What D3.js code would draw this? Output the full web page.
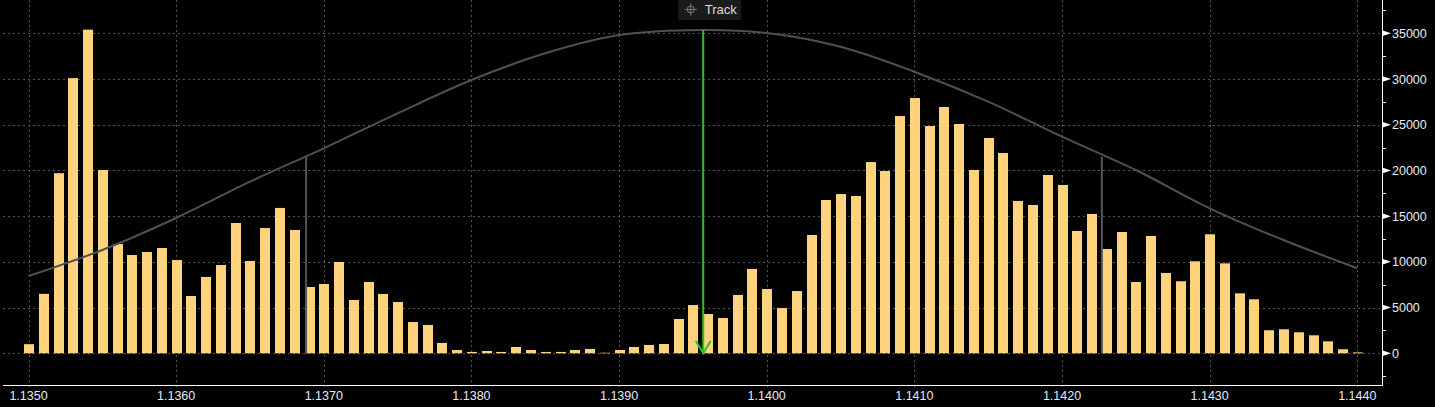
<!DOCTYPE html>
<html>
<head>
<meta charset="utf-8">
<script src="https://cdn.jsdelivr.net/npm/d3@7/dist/d3.min.js"></script>
<style>
  html, body { margin: 0; padding: 0; background: #000; }
  svg { display: block; }
</style>
</head>
<body>
<svg id="chart" width="1435" height="407"></svg>
<script>
// ---------- DATA ----------
const priceLevels = [
  1.1350,1.1351,1.1352,1.1353,1.1354,1.1355,1.1356,1.1357,1.1358,1.1359,
  1.1360,1.1361,1.1362,1.1363,1.1364,1.1365,1.1366,1.1367,1.1368,1.1369,
  1.1370,1.1371,1.1372,1.1373,1.1374,1.1375,1.1376,1.1377,1.1378,1.1379,
  1.1380,1.1381,1.1382,1.1383,1.1384,1.1385,1.1386,1.1387,1.1388,1.1389,
  1.1390,1.1391,1.1392,1.1393,1.1394,1.1395,1.1396,1.1397,1.1398,1.1399,
  1.1400,1.1401,1.1402,1.1403,1.1404,1.1405,1.1406,1.1407,1.1408,1.1409,
  1.1410,1.1411,1.1412,1.1413,1.1414,1.1415,1.1416,1.1417,1.1418,1.1419,
  1.1420,1.1421,1.1422,1.1423,1.1424,1.1425,1.1426,1.1427,1.1428,1.1429,
  1.1430,1.1431,1.1432,1.1433,1.1434,1.1435,1.1436,1.1437,1.1438,1.1439,
  1.1440
];
const volumes = [
  1000,6500,19700,30100,35400,20050,11950,10750,11080,11520,
  10200,6270,8350,9660,14250,10100,13700,15900,13490,7250,
  7580,9990,5830,7800,6490,5610,3420,3100,1130,360,
  150,250,150,690,360,150,150,360,470,60,
  360,690,910,1020,3750,5280,4300,3860,6380,9220,
  7030,4950,6810,12940,16770,17420,17200,20920,19940,25950,
  27920,24860,26940,25080,20050,23550,21910,16660,16220,19500,
  18410,13380,15240,11410,13270,7800,12830,8780,7880,10060,
  13020,9840,6560,5910,2520,2630,2300,1970,1310,440,
  100
];
// distribution curve
const curvePrices = [1.1350,1.1355,1.1360,1.1365,1.1370,1.1375,1.1380,1.1385,1.1390,1.13957,
                     1.1400,1.1405,1.1410,1.1415,1.1420,1.1425,1.1430,1.1435,1.1440];
const curveValues = [8450,11300,14800,18770,22420,26250,29890,32810,34810,35370,
                     35030,33530,30800,27520,23690,20050,15860,12390,9300];
// band markers (vertical grey lines) and tracked price
const bandPrices = [1.13688, 1.14227];
const bandValues = [21500, 21500];
const trackPrice = 1.13957;
const trackValue = 35370;
const trackLabel = "Track";
// axis ticks
const xTickLabels = ["1.1350","1.1360","1.1370","1.1380","1.1390","1.1400","1.1410","1.1420","1.1430","1.1440"];
const yTickValues = [0,5000,10000,15000,20000,25000,30000,35000];
const yMinorValues = [-2500,2500,7500,12500,17500,22500,27500,32500,37500];

// ---------- LAYOUT ----------
const svg = d3.select("#chart");
const plotLeft = 3, plotRight = 1382, plotTop = 0, plotBottom = 385;

const x = d3.scaleLinear().domain([1.1350, 1.1440]).range([28.5, 1357.3]);
const y = d3.scaleLinear().domain([0, 35000]).range([353.3, 33.3]);

const gridColor = "#545454";
const labelColor = "#e4ecf7";
const font = "'Liberation Sans', Arial, sans-serif";

// grid
const grid = svg.append("g");
grid.selectAll("line.vg").data(xTickLabels).join("line")
  .attr("x1", d => Math.round(x(+d)) + 0.5).attr("x2", d => Math.round(x(+d)) + 0.5)
  .attr("y1", plotTop).attr("y2", plotBottom + 5)
  .attr("stroke", gridColor).attr("stroke-width", 1).attr("stroke-dasharray", "2,3");
grid.selectAll("line.hg").data(yTickValues).join("line")
  .attr("x1", plotLeft).attr("x2", plotRight)
  .attr("y1", d => Math.round(y(d)) + 0.5).attr("y2", d => Math.round(y(d)) + 0.5)
  .attr("stroke", gridColor).attr("stroke-width", 1).attr("stroke-dasharray", "2,3");

// bars
const barW = 10;
svg.append("g").selectAll("rect").data(volumes).join("rect")
  .attr("x", (d, i) => Math.round(x(priceLevels[i]) - barW / 2 + 0.5))
  .attr("y", d => y(d))
  .attr("width", barW)
  .attr("height", d => Math.max(0, y(0) - y(d)))
  .attr("fill", "#ffd37b");

// curve
const curvePts = curvePrices.map((p, i) => [x(p), y(curveValues[i])]);
svg.append("path")
  .attr("d", d3.line().curve(d3.curveCatmullRom.alpha(0.5))(curvePts))
  .attr("fill", "none").attr("stroke", "#505050").attr("stroke-width", 2);

// band lines
svg.append("g").selectAll("line").data(bandPrices).join("line")
  .attr("x1", d => x(d)).attr("x2", d => x(d))
  .attr("y1", (d, i) => y(bandValues[i])).attr("y2", y(0))
  .attr("stroke", "#555").attr("stroke-width", 2);

// track line + arrow
const tx = x(trackPrice);
const green = "#2fc02f";
svg.append("line")
  .attr("x1", tx).attr("x2", tx).attr("y1", y(trackValue)).attr("y2", y(0))
  .attr("stroke", green).attr("stroke-width", 2);
svg.append("path")
  .attr("d", `M${tx - 7.5},${y(0) - 12.5} L${tx},${y(0)} L${tx + 7.5},${y(0) - 12.5}`)
  .attr("fill", "none").attr("stroke", green).attr("stroke-width", 2);

// track label box
const tb = svg.append("g");
tb.append("rect").attr("x", tx - 25).attr("y", 0).attr("width", 63).attr("height", 20)
  .attr("fill", "#1b1b1b");
const cx = tx - 12.5, cy = 9.5;
tb.append("circle").attr("cx", cx).attr("cy", cy).attr("r", 3.5)
  .attr("fill", "none").attr("stroke", "#777").attr("stroke-width", 1);
tb.append("path")
  .attr("d", `M${cx - 6},${cy} H${cx + 6} M${cx},${cy - 6} V${cy + 6}`)
  .attr("stroke", "#777").attr("stroke-width", 1);
tb.append("text").attr("x", tx + 1.5).attr("y", 14)
  .attr("fill", "#dcdcdc").attr("font-family", font).attr("font-size", "13px")
  .text(trackLabel);

// x axis
const xAxisG = svg.append("g");
xAxisG.append("line").attr("x1", plotLeft).attr("x2", plotRight + 0.5)
  .attr("y1", plotBottom + 0.5).attr("y2", plotBottom + 0.5)
  .attr("stroke", "#fff").attr("stroke-width", 1);
xAxisG.selectAll("text").data(xTickLabels).join("text")
  .attr("x", d => x(+d)).attr("y", 400)
  .attr("text-anchor", "middle")
  .attr("fill", labelColor).attr("font-family", font).attr("font-size", "12.5px")
  .text(d => d);

// y axis (right)
const yAxisG = svg.append("g");
yAxisG.append("line").attr("x1", plotRight + 0.5).attr("x2", plotRight + 0.5)
  .attr("y1", 0).attr("y2", plotBottom + 1)
  .attr("stroke", "#fff").attr("stroke-width", 1);
yAxisG.selectAll("line.minor").data(yMinorValues).join("line")
  .attr("x1", plotRight).attr("x2", plotRight + 4)
  .attr("y1", d => Math.round(y(d)) + 0.5).attr("y2", d => Math.round(y(d)) + 0.5)
  .attr("stroke", "#fff").attr("stroke-width", 1);
yAxisG.selectAll("path.tri").data(yTickValues).join("path")
  .attr("d", d => { const yy = y(d); return `M${plotRight},${yy - 3} L${plotRight + 9},${yy} L${plotRight},${yy + 3} Z`; })
  .attr("fill", "#fff");
yAxisG.selectAll("text").data(yTickValues).join("text")
  .attr("x", 1392).attr("y", d => y(d) + 4.5)
  .attr("fill", labelColor).attr("font-family", font).attr("font-size", "12.5px")
  .text(d => String(d));
</script>
</body>
</html>
